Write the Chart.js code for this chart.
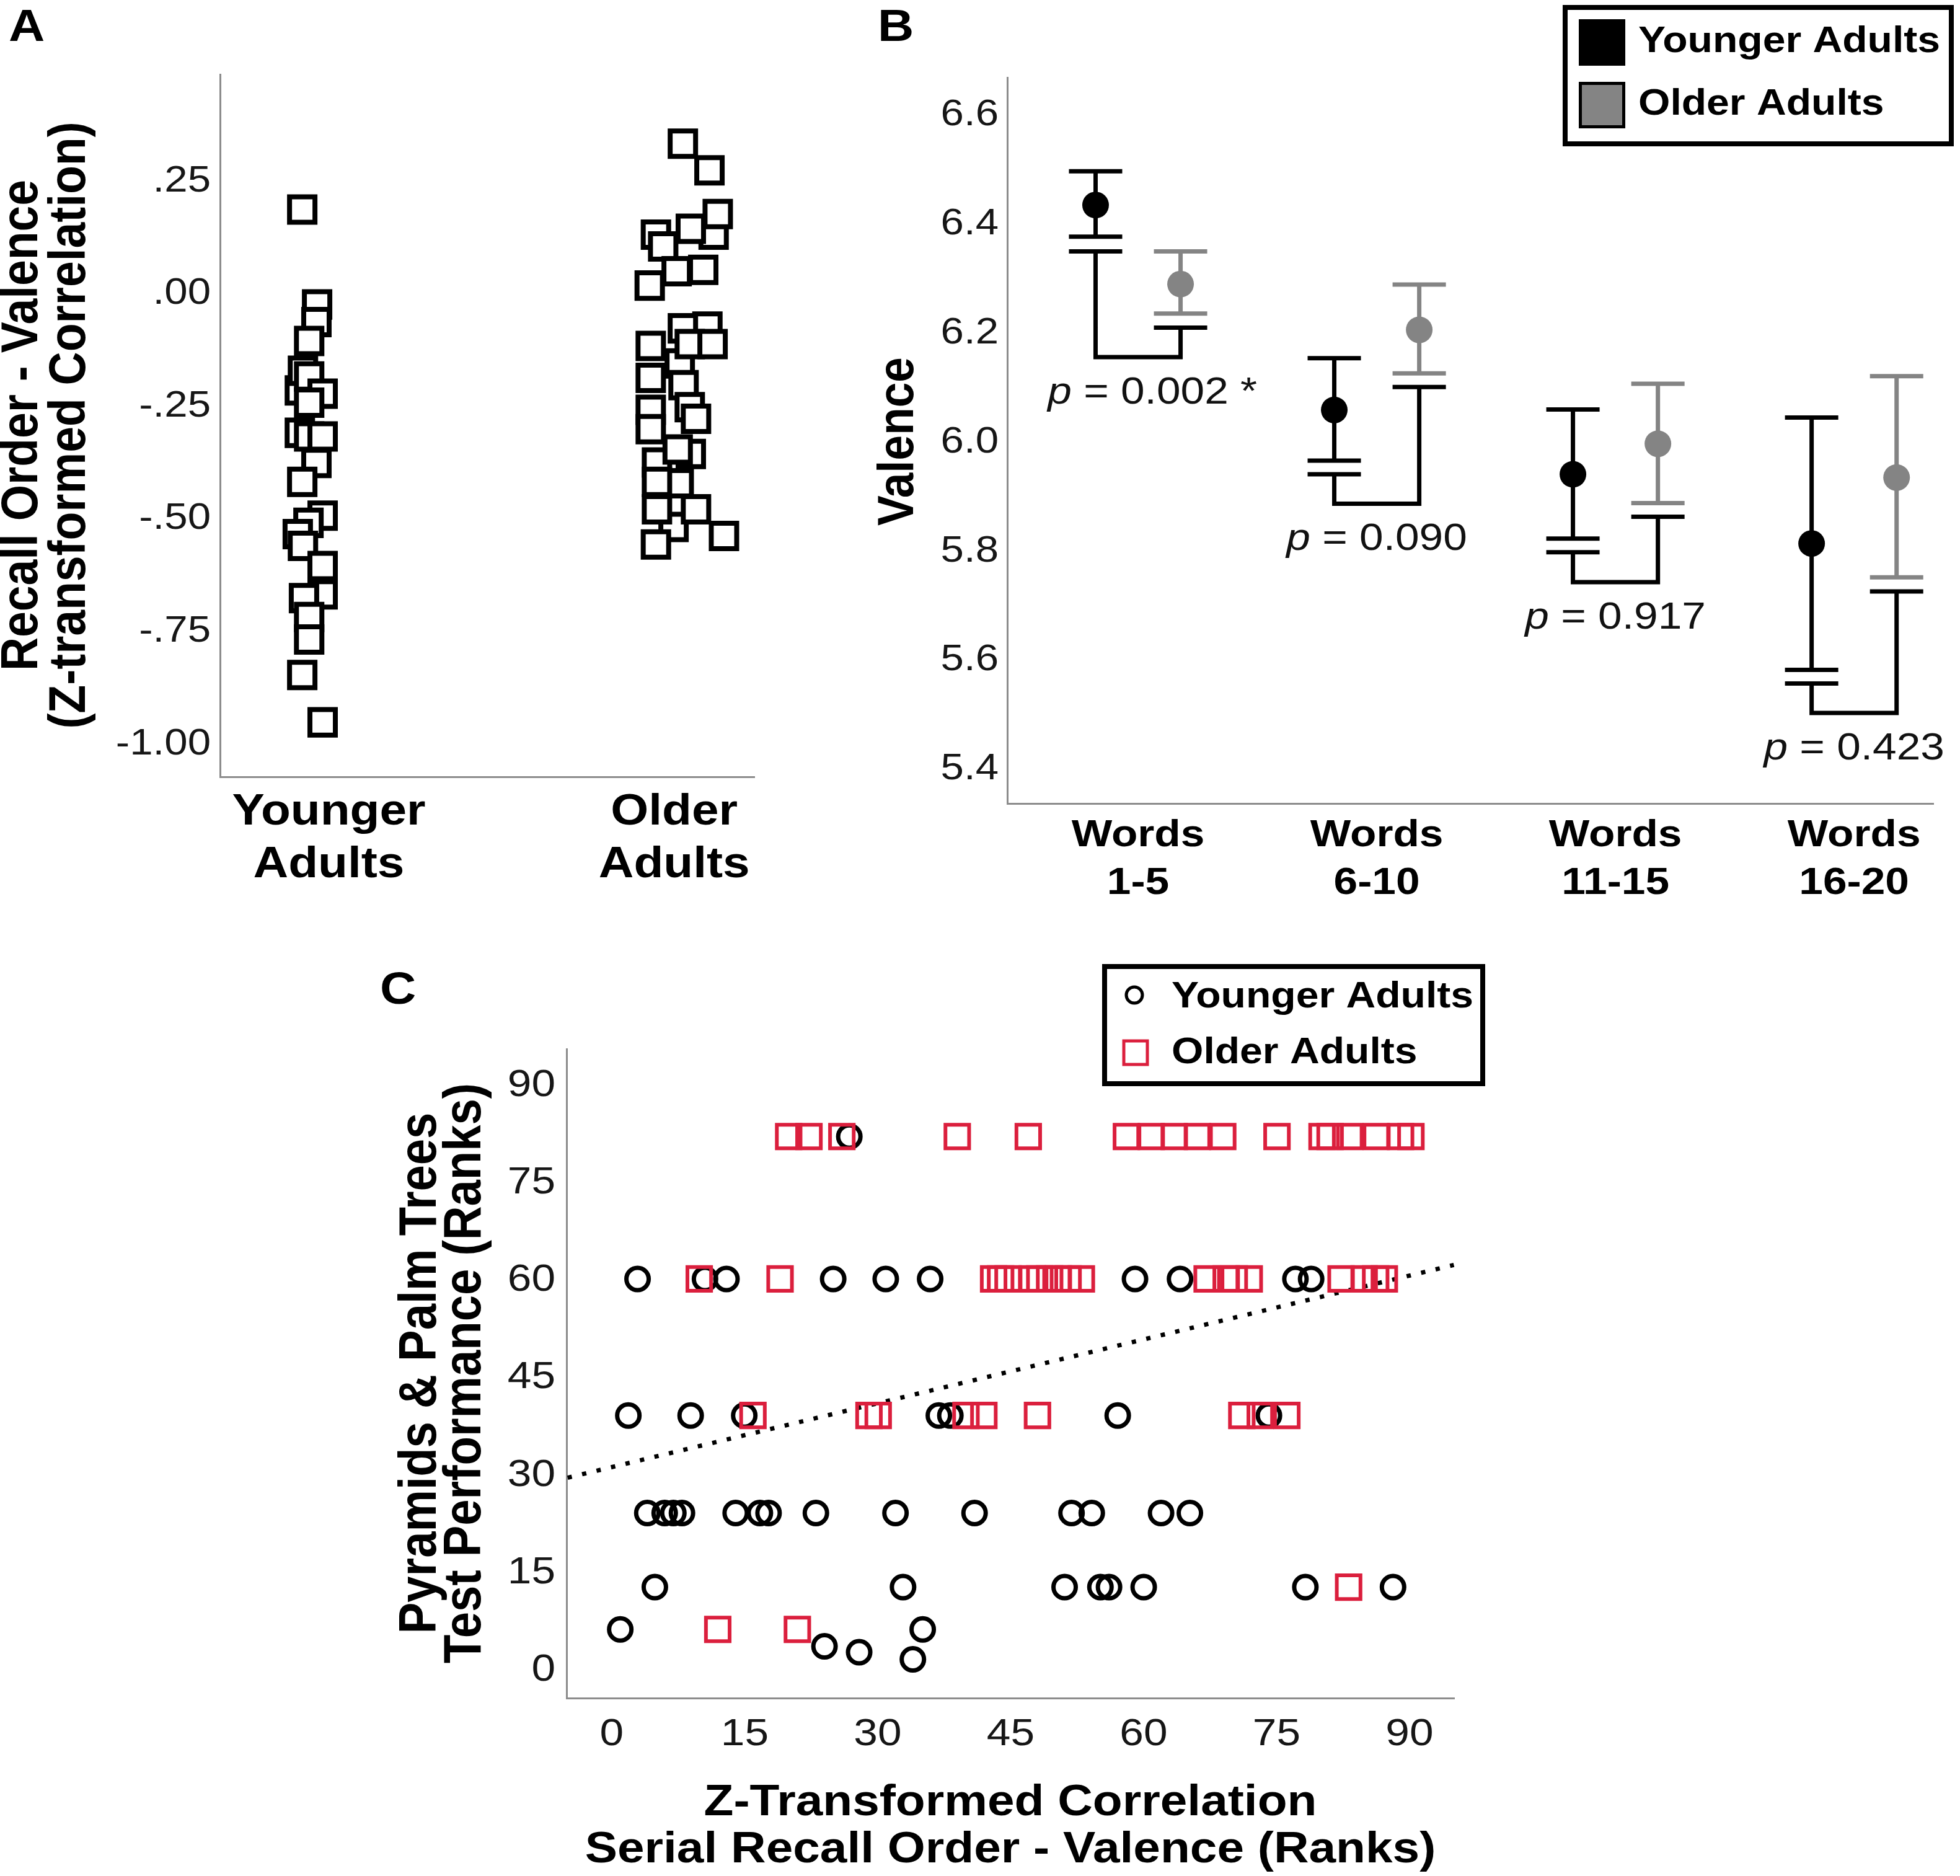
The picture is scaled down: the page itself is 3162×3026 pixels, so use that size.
<!DOCTYPE html>
<html><head><meta charset="utf-8">
<script src="https://cdn.jsdelivr.net/npm/chart.js@4.4.1/dist/chart.umd.min.js"></script>
<style>
html,body{margin:0;padding:0;background:#fff;overflow:hidden;}
canvas{position:absolute;left:0;top:0;width:3162px;height:3026px;}
</style></head><body>
<canvas id="cA" width="3162" height="3026"></canvas>
<canvas id="cB" width="3162" height="3026"></canvas>
<canvas id="cC" width="3162" height="3026"></canvas>
<script>
// ---------------- DATA ----------------
// Panel A
const catLabelsA = [['Younger','Adults'],['Older','Adults']];
const catPosA = [1, 2];
const tickValsA = [-1, -0.75, -0.5, -0.25, 0, 0.25];
const youngXA = [0.923,0.966,0.964,0.943,0.916,0.925,0.943,0.982,0.943,0.916,0.943,0.982,0.964,0.923,0.982,0.941,0.910,0.925,0.982,0.982,0.928,0.943,0.943,0.923,0.982];
const youngYA = [0.187,-0.024,-0.063,-0.105,-0.215,-0.171,-0.184,-0.222,-0.242,-0.309,-0.317,-0.317,-0.376,-0.418,-0.493,-0.509,-0.534,-0.560,-0.605,-0.668,-0.676,-0.718,-0.768,-0.847,-0.952];
const olderXA = [2.114,2.096,2.016,2.048,1.950,2.013,1.998,2.025,2.102,2.126,2.048,1.947,1.968,2.007,2.084,1.929,2.025,1.932,2.045,2.111,1.932,2.027,2.045,2.063,1.932,1.932,2.010,1.950,1.950,2.063,2.144,1.947];
const olderYA = [0.131,-0.073,-0.155,-0.356,-0.375,-0.421,-0.518,0.333,0.274,0.177,0.144,0.131,0.105,0.050,0.053,0.018,-0.077,-0.116,-0.112,-0.112,-0.187,-0.203,-0.252,-0.278,-0.258,-0.301,-0.346,-0.418,-0.479,-0.479,-0.538,-0.557];

// Panel B
const catLabelsB = [['Words','1-5'],['Words','6-10'],['Words','11-15'],['Words','16-20']];
const catPosB = [1, 2, 3, 4];
const tickValsB = [5.4, 5.6, 5.8, 6.0, 6.2, 6.4, 6.6];
const youngMeanB  = [6.435, 6.059, 5.941, 5.814];
const youngUpperB = [6.497, 6.154, 6.060, 6.045];
const youngLowerB = [6.377, 5.966, 5.823, 5.582];
const olderMeanB  = [6.290, 6.206, 5.997, 5.935];
const olderUpperB = [6.350, 6.289, 6.107, 6.121];
const olderLowerB = [6.236, 6.126, 5.888, 5.752];
const bracketYoungB  = [6.350, 5.941, 5.798, 5.557];
const bracketOlderB  = [6.210, 6.101, 5.863, 5.726];
const bracketBottomB = [6.156, 5.887, 5.743, 5.503];
const pValuesB = ['0.002', '0.090', '0.917', '0.423'];
const pStarB = [true, false, false, false];
const legendB = ['Younger Adults', 'Older Adults'];

// Panel C
const tickValsC = [0, 15, 30, 45, 60, 75, 90];
const youngXC = [26.8,
  2.91,10.52,12.94,24.98,30.91,35.92,59.03,64.11,77.13,78.9,
  1.87,8.9,14.95,36.9,38.2,57.08,74.14,
  4.01,5.97,6.95,7.92,13.98,16.71,17.69,23.03,32.01,40.93,51.87,54.15,61.97,65.22,
  4.86,32.86,51.09,55.13,56.1,60.01,78.25,88.14,
  0.96,35.08,
  24.0,27.91,33.97];
const youngYC = [82.1,
  60.2,60.2,60.2,60.2,60.2,60.2,60.2,60.2,60.2,60.2,
  39.2,39.2,39.2,39.2,39.2,39.2,39.2,
  24.2,24.2,24.2,24.2,24.2,24.2,24.2,24.2,24.2,24.2,24.2,24.2,24.2,24.2,
  12.8,12.8,12.8,12.8,12.8,12.8,12.8,12.8,
  6.3,6.3,
  3.7,2.8,1.7];
const olderXC = [19.96,22.25,25.96,38.98,46.99,58.06,60.86,63.46,66.07,68.93,75.05,80.13,81.04,83.26,86.25,88.99,90.16,
  9.87,18.99,43.08,43.87,44.71,47.45,48.29,49.4,50.38,51.48,52.98,67.17,69.32,70.23,71.92,82.28,84.88,86.18,87.16,
  15.93,29.02,30.06,39.96,41.98,48.03,71.08,73.16,76.16,
  83.13,
  11.96,20.94];
const olderYC = [82.1,82.1,82.1,82.1,82.1,82.1,82.1,82.1,82.1,82.1,82.1,82.1,82.1,82.1,82.1,82.1,82.1,
  60.2,60.2,60.2,60.2,60.2,60.2,60.2,60.2,60.2,60.2,60.2,60.2,60.2,60.2,60.2,60.2,60.2,60.2,60.2,
  39.2,39.2,39.2,39.2,39.2,39.2,39.2,39.2,39.2,
  12.8,
  6.3,6.3];
const fitXC = [-4.98, 95.0];
const fitYC = [29.63, 62.35];
const legendC = ['Younger Adults', 'Older Adults'];

// ---------------- STYLE / HELPERS ----------------
const K = 1.12;
const FONT = '"Liberation Sans", Arial, Helvetica, sans-serif';
const AXIS = '#8c8c8c';
const TICK = '#161616';
const GRAY = '#848484';
const RED = '#db1f3d';
const W = 3162, H = 3026;

function drawText(ctx, s, x, y, o) {
  ctx.save();
  ctx.font = `${o.style||'normal'} ${o.weight||'normal'} ${o.size}px ${FONT}`;
  ctx.fillStyle = o.color || '#000';
  ctx.textAlign = o.align || 'left';
  ctx.textBaseline = o.baseline || 'alphabetic';
  ctx.translate(x, y);
  ctx.scale(K, 1);
  if (o.rotate) ctx.rotate(o.rotate);
  ctx.fillText(s, 0, 0);
  ctx.restore();
}
function axis(min, max, ticks) {
  return { type: 'linear', min, max, display: true,
    grid: { display: false, drawTicks: false, tickLength: 0 },
    border: { display: true, color: AXIS, width: 3 },
    ticks: { display: false },
    afterBuildTicks: s => { s.ticks = ticks.map(v => ({ value: v })); } };
}
function pts(xs, ys) { return xs.map((x, i) => ({ x, y: ys[i] })); }
function baseOpts(pad, scales) {
  return { responsive: false, animation: false, devicePixelRatio: 1,
    layout: { padding: pad }, scales,
    plugins: { legend: { display: false }, tooltip: { enabled: false } },
    events: [] };
}
function fmtA(v) {
  let s = Math.abs(v).toFixed(2);
  if (Math.abs(v) < 1) s = s.replace(/^0/, '');
  return (v < 0 ? '-' : '') + s;
}

// ---------------- PANEL A ----------------
new Chart(document.getElementById('cA'), {
  type: 'scatter',
  data: { datasets: [
    { data: pts(youngXA, youngYA), pointStyle: 'rect', pointRadius: 29, borderWidth: 8, borderColor: '#000', backgroundColor: '#fff', clip: false },
    { data: pts(olderXA, olderYA), pointStyle: 'rect', pointRadius: 29, borderWidth: 8, borderColor: '#000', backgroundColor: '#fff', clip: false }
  ]},
  options: baseOpts({ left: 355, top: 120, right: W - 1217, bottom: H - 1253 },
    { x: axis(0.685, 2.232, catPosA), y: axis(-1.073, 0.487, tickValsA) }),
  plugins: [{ id: 'txtA', afterDraw(chart) {
    const ctx = chart.ctx, xs = chart.scales.x, ys = chart.scales.y;
    ys.ticks.forEach(t => drawText(ctx, fmtA(t.value), 340, ys.getPixelForValue(t.value), { size: 60, align: 'right', baseline: 'middle', color: TICK }));
    xs.ticks.forEach((t, i) => {
      const px = xs.getPixelForValue(t.value);
      drawText(ctx, catLabelsA[i][0], px, 1330, { size: 70, weight: 'bold', align: 'center' });
      drawText(ctx, catLabelsA[i][1], px, 1415, { size: 70, weight: 'bold', align: 'center' });
    });
    drawText(ctx, 'A', 14, 66, { size: 72, weight: 'bold' });
    drawText(ctx, 'Recall Order - Valence', 37, 686, { size: 75, weight: 'bold', align: 'center', baseline: 'middle', rotate: -Math.PI / 2 });
    drawText(ctx, '(Z-transformed Correlation)', 114, 686, { size: 75, weight: 'bold', align: 'center', baseline: 'middle', rotate: -Math.PI / 2 });
  }}]
});

// ---------------- PANEL B ----------------
const OFF = 0.178, CAP = 43;
new Chart(document.getElementById('cB'), {
  type: 'scatter',
  data: { datasets: [
    { data: youngMeanB.map((v, i) => ({ x: catPosB[i] - OFF, y: v })), pointStyle: 'circle', pointRadius: 21.5, borderWidth: 0, backgroundColor: '#000', clip: false },
    { data: olderMeanB.map((v, i) => ({ x: catPosB[i] + OFF, y: v })), pointStyle: 'circle', pointRadius: 21.5, borderWidth: 0, backgroundColor: GRAY, clip: false }
  ]},
  options: baseOpts({ left: 1625, top: 125, right: W - 3119, bottom: H - 1296 },
    { x: axis(0.452, 4.332, catPosB), y: axis(5.337, 6.669, tickValsB) }),
  plugins: [{ id: 'errB',
    beforeDatasetsDraw(chart) {
      const ctx = chart.ctx, xs = chart.scales.x, ys = chart.scales.y;
      ctx.save();
      ctx.lineWidth = 7; ctx.lineCap = 'butt'; ctx.lineJoin = 'miter';
      const hl = (x, v, c) => { const y = ys.getPixelForValue(v); ctx.strokeStyle = c; ctx.beginPath(); ctx.moveTo(x - CAP, y); ctx.lineTo(x + CAP, y); ctx.stroke(); };
      catPosB.forEach((c, i) => {
        const xy = xs.getPixelForValue(c - OFF), xo = xs.getPixelForValue(c + OFF);
        ctx.strokeStyle = '#000'; ctx.beginPath();
        ctx.moveTo(xy, ys.getPixelForValue(youngUpperB[i])); ctx.lineTo(xy, ys.getPixelForValue(youngLowerB[i])); ctx.stroke();
        hl(xy, youngUpperB[i], '#000'); hl(xy, youngLowerB[i], '#000');
        ctx.strokeStyle = GRAY; ctx.beginPath();
        ctx.moveTo(xo, ys.getPixelForValue(olderUpperB[i])); ctx.lineTo(xo, ys.getPixelForValue(olderLowerB[i])); ctx.stroke();
        hl(xo, olderUpperB[i], GRAY); hl(xo, olderLowerB[i], GRAY);
        hl(xy, bracketYoungB[i], '#000'); hl(xo, bracketOlderB[i], '#000');
        ctx.strokeStyle = '#000'; ctx.beginPath();
        ctx.moveTo(xy, ys.getPixelForValue(bracketYoungB[i]));
        ctx.lineTo(xy, ys.getPixelForValue(bracketBottomB[i]));
        ctx.lineTo(xo, ys.getPixelForValue(bracketBottomB[i]));
        ctx.lineTo(xo, ys.getPixelForValue(bracketOlderB[i]));
        ctx.stroke();
      });
      ctx.restore();
    },
    afterDraw(chart) {
      const ctx = chart.ctx, xs = chart.scales.x, ys = chart.scales.y;
      ys.ticks.forEach(t => drawText(ctx, t.value.toFixed(1), 1611, ys.getPixelForValue(t.value), { size: 60, align: 'right', baseline: 'middle', color: TICK }));
      xs.ticks.forEach((t, i) => {
        const px = xs.getPixelForValue(t.value);
        drawText(ctx, catLabelsB[i][0], px, 1365, { size: 62, weight: 'bold', align: 'center' });
        drawText(ctx, catLabelsB[i][1], px, 1442, { size: 62, weight: 'bold', align: 'center' });
      });
      drawText(ctx, 'B', 1416, 66, { size: 72, weight: 'bold' });
      drawText(ctx, 'Valence', 1450, 712, { size: 73, weight: 'bold', align: 'center', baseline: 'middle', rotate: -Math.PI / 2 });
      catPosB.forEach((c, i) => {
        const cx = (xs.getPixelForValue(c - OFF) + xs.getPixelForValue(c + OFF)) / 2;
        const base = ys.getPixelForValue(bracketBottomB[i]) + 75;
        const size = 62;
        ctx.save();
        ctx.font = `italic normal ${size}px ${FONT}`; const wp = ctx.measureText('p').width;
        ctx.font = `normal normal ${size}px ${FONT}`; const rest = ' = ' + pValuesB[i]; const wr = ctx.measureText(rest).width;
        ctx.translate(cx - (wp + wr) * K / 2, base); ctx.scale(K, 1);
        ctx.fillStyle = '#111'; ctx.textAlign = 'left'; ctx.textBaseline = 'alphabetic';
        ctx.font = `italic normal ${size}px ${FONT}`; ctx.fillText('p', 0, 0);
        ctx.font = `normal normal ${size}px ${FONT}`; ctx.fillText(rest, wp, 0);
        if (pStarB[i]) ctx.fillText(' *', wp + wr, 0);
        ctx.restore();
      });
      ctx.save();
      ctx.lineWidth = 8; ctx.strokeStyle = '#000';
      ctx.strokeRect(2525, 12, 623, 220);
      ctx.fillStyle = '#000'; ctx.fillRect(2547, 31, 75, 75);
      ctx.fillStyle = GRAY; ctx.fillRect(2547, 132, 75, 75);
      ctx.lineWidth = 5; ctx.strokeRect(2549.5, 134.5, 70, 70);
      ctx.restore();
      drawText(ctx, legendB[0], 2643, 84, { size: 59, weight: 'bold' });
      drawText(ctx, legendB[1], 2643, 185, { size: 59, weight: 'bold' });
    }
  }]
});

// ---------------- PANEL C ----------------
new Chart(document.getElementById('cC'), {
  type: 'scatter',
  data: { datasets: [
    { data: pts(olderXC, olderYC), pointStyle: 'rect', pointRadius: 27, borderWidth: 6, borderColor: RED, backgroundColor: 'rgba(0,0,0,0)', clip: false },
    { data: pts(youngXC, youngYC), pointStyle: 'circle', pointRadius: 18, borderWidth: 7, borderColor: '#000', backgroundColor: 'rgba(0,0,0,0)', clip: false },
    { type: 'line', data: pts(fitXC, fitYC), borderColor: '#000', borderWidth: 7, borderDash: [7, 17], borderCapStyle: 'butt', pointRadius: 0, fill: false, clip: false }
  ]},
  options: baseOpts({ left: 914, top: 1692, right: W - 2346, bottom: H - 2739 },
    { x: axis(-5.10, 95.04, tickValsC), y: axis(-4.26, 95.57, tickValsC) }),
  plugins: [{ id: 'txtC', afterDraw(chart) {
    const ctx = chart.ctx, xs = chart.scales.x, ys = chart.scales.y;
    ys.ticks.forEach(t => drawText(ctx, String(t.value), 896, ys.getPixelForValue(t.value), { size: 62, align: 'right', baseline: 'middle', color: TICK }));
    xs.ticks.forEach(t => drawText(ctx, String(t.value), xs.getPixelForValue(t.value), 2815, { size: 62, align: 'center', color: TICK }));
    drawText(ctx, 'C', 613, 1619, { size: 72, weight: 'bold' });
    drawText(ctx, 'Z-Transformed Correlation', 1630, 2928, { size: 70, weight: 'bold', align: 'center' });
    drawText(ctx, 'Serial Recall Order - Valence (Ranks)', 1630, 3004, { size: 70, weight: 'bold', align: 'center' });
    drawText(ctx, 'Pyramids & Palm Trees', 680, 2215, { size: 76, weight: 'bold', align: 'center', baseline: 'middle', rotate: -Math.PI / 2 });
    drawText(ctx, 'Test Performance (Ranks)', 752, 2215, { size: 76, weight: 'bold', align: 'center', baseline: 'middle', rotate: -Math.PI / 2 });
    ctx.save();
    ctx.lineWidth = 8; ctx.strokeStyle = '#000';
    ctx.strokeRect(1782, 1559, 610, 189);
    ctx.lineWidth = 5; ctx.beginPath(); ctx.arc(1830, 1605, 13, 0, Math.PI * 2); ctx.stroke();
    ctx.strokeStyle = RED; ctx.lineWidth = 5; ctx.strokeRect(1813, 1679, 38, 38);
    ctx.restore();
    drawText(ctx, legendC[0], 1890, 1625, { size: 59, weight: 'bold' });
    drawText(ctx, legendC[1], 1890, 1715, { size: 59, weight: 'bold' });
  }}]
});
</script></body></html>
